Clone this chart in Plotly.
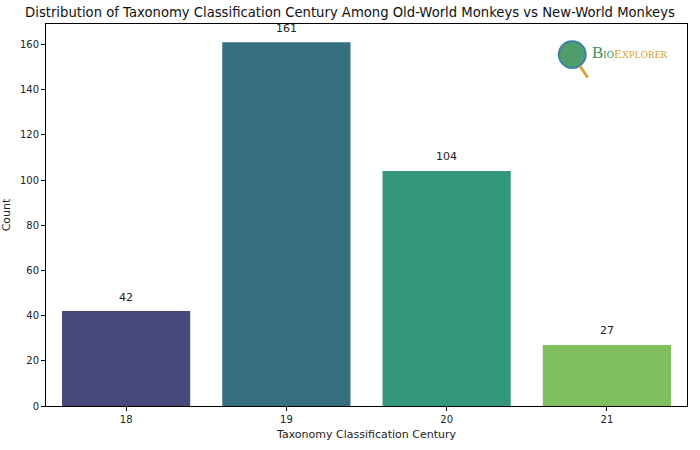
import plotly.graph_objects as go

centuries = ["18", "19", "20", "21"]
counts = [42, 161, 104, 27]
colors = ["#48497b", "#366f7f", "#33977b", "#7fbf5e"]

fig = go.Figure()
fig.add_trace(go.Bar(
    x=centuries, y=counts, marker=dict(color=colors, line=dict(width=0)),
    width=0.8, showlegend=False,
))
for i, v in enumerate(counts):
    fig.add_annotation(x=i, y=v, text=str(v), showarrow=False, yshift=14,
                       font=dict(size=11, color="#222", family="DejaVu Sans"))

# logo
fig.add_shape(type="circle", xref="paper", yref="paper",
              x0=0.800, x1=0.842, y0=0.885, y1=0.955,
              fillcolor="#4f9d6a", line=dict(color="#3f7fa8", width=2))
fig.add_shape(type="line", xref="paper", yref="paper",
              x0=0.833, x1=0.845, y0=0.89, y1=0.86,
              line=dict(color="#d9a53a", width=3))
fig.add_annotation(xref="paper", yref="paper", x=0.848, y=0.925, xanchor="left",
                   yanchor="middle", showarrow=False,
                   text="<span style='font-size:17px;color:#3b8f63'>B</span><span style='color:#3b8f63'>IO</span><span style='font-size:13px'>E</span>XPLORER",
                   font=dict(family="Liberation Serif", size=10, color="#d7a52c"))

fig.update_layout(
    width=700, height=450,
    margin=dict(l=46, r=13, t=24, b=44),
    paper_bgcolor="white", plot_bgcolor="white",
    font=dict(family="DejaVu Sans", size=10, color="#222"),
    title=dict(text="Distribution of Taxonomy Classification Century Among Old-World Monkeys vs New-World Monkeys",
               x=0.5, xref="container", xanchor="center", y=0.972, yanchor="middle",
               font=dict(size=13.2, color="#111"), automargin=False),
    bargap=0.2,
)
fig.update_xaxes(
    type="category", range=[-0.5, 3.5], showline=True, mirror=True, linecolor="black",
    linewidth=1, ticks="outside", ticklen=4, tickcolor="black", showgrid=False,
    automargin=False,
    title=dict(text="Taxonomy Classification Century", font=dict(size=11), standoff=6),
)
fig.update_yaxes(
    range=[0, 169.05], showline=True, mirror=True, linecolor="black", linewidth=1,
    ticks="outside", ticklen=4, tickcolor="black", showgrid=False, zeroline=False,
    automargin=False,
    tickvals=[0, 20, 40, 60, 80, 100, 120, 140, 160],
    title=dict(text="Count", font=dict(size=11), standoff=8),
)
fig.write_html("out.html", post_script="document.body.style.margin='0';",
               config={"displayModeBar": False})
